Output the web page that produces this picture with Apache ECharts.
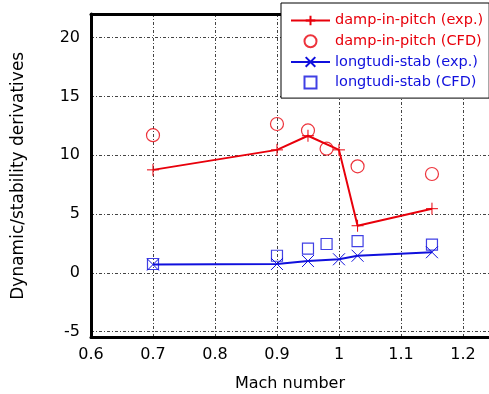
<!DOCTYPE html>
<html>
<head>
<meta charset="utf-8">
<script src="https://cdn.jsdelivr.net/npm/echarts@6/dist/echarts.min.js"></script>
<style>
html, body { margin: 0; padding: 0; background: #fff; }
#chart { width: 489px; height: 394px; }
</style>
</head>
<body>
<div id="chart"></div>
<script>
// Mach numbers
var machExp = [0.7, 0.9, 0.95, 1.0, 1.03, 1.15];
var machCfd = [0.7, 0.9, 0.95, 0.98, 1.03, 1.15];

var dampExp = [8.75, 10.45, 11.65, 10.45, 4.0, 5.45];
var dampCfd = [11.7, 12.65, 12.1, 10.55, 9.05, 8.4];
var stabExp = [0.7, 0.75, 1.0, 1.15, 1.45, 1.75];
var stabCfd = [0.75, 1.45, 2.05, 2.45, 2.7, 2.4];

var RED = '#e8000b';
var BLUE = '#1010dd';
var FONT = 'DejaVu Sans';

function pairs(xs, ys) {
    return xs.map(function (x, i) { return [x, ys[i]]; });
}

var plusPath = 'path://M5,0L5,10M0,5L10,5';
var crossPath = 'path://M0,0L10,10M10,0L0,10';
var squarePath = 'path://M0,0L10,0L10,10L0,10Z';

var chartDom = document.getElementById('chart');
var myChart = echarts.init(chartDom);
var option;

var gridLine = {
    show: true,
    lineStyle: { color: '#444', width: 1, type: [3, 2, 1, 2] }
};

option = {
    animation: false,
    textStyle: { fontFamily: FONT },
    grid: { left: 91, top: 14, right: 0, bottom: 56.5, outerBoundsMode: 'none' },
    legend: {
        orient: 'vertical',
        left: 281,
        top: 3,
        padding: [10, 6, 7, 9],
        itemGap: 4.7,
        itemWidth: 39,
        itemHeight: 12,
        backgroundColor: '#fff',
        borderColor: '#000',
        borderWidth: 1,
        textStyle: { fontSize: 14.5, fontFamily: FONT },
        data: [
            { name: 'damp-in-pitch (exp.)', textStyle: { color: RED } },
            { name: 'damp-in-pitch (CFD)', textStyle: { color: RED } },
            { name: 'longtudi-stab (exp.)', textStyle: { color: BLUE } },
            { name: 'longtudi-stab (CFD)', textStyle: { color: BLUE } }
        ]
    },
    xAxis: [
        {
            type: 'value',
            min: 0.6,
            max: 1.242,
            interval: 0.1,
            name: 'Mach number',
            nameLocation: 'middle',
            nameGap: 38,
            nameTextStyle: { fontSize: 16, color: '#000' },
            axisLine: { show: true, onZero: false, lineStyle: { color: '#000', width: 3 } },
            axisTick: { show: false },
            axisLabel: { fontSize: 16, color: '#000', margin: 9, showMaxLabel: false },
            splitLine: gridLine
        },
        {
            type: 'value',
            position: 'top',
            min: 0.6,
            max: 1.242,
            axisLine: { show: true, onZero: false, lineStyle: { color: '#000', width: 3 } },
            axisTick: { show: false },
            axisLabel: { show: false },
            splitLine: { show: false }
        }
    ],
    yAxis: [
        {
            type: 'value',
            min: -5.5,
            max: 22,
            name: 'Dynamic/stability derivatives',
            nameLocation: 'middle',
            nameGap: 64,
            nameTextStyle: { fontSize: 17, color: '#000' },
            axisLine: { show: true, onZero: false, lineStyle: { color: '#000', width: 3 } },
            axisTick: { show: false },
            axisLabel: { fontSize: 16, color: '#000', margin: 11, showMinLabel: false, showMaxLabel: false },
            splitLine: gridLine
        }
    ],
    series: [
        {
            name: 'damp-in-pitch (exp.)',
            type: 'line',
            data: pairs(machExp, dampExp),
            symbol: plusPath,
            symbolSize: 12,
            lineStyle: { color: RED, width: 2 },
            itemStyle: { color: 'none', borderColor: RED, borderWidth: 1 }
        },
        {
            name: 'damp-in-pitch (CFD)',
            type: 'scatter',
            data: pairs(machCfd, dampCfd),
            symbol: 'circle',
            symbolSize: 13,
            itemStyle: { color: 'none', borderColor: RED, borderWidth: 1.2 }
        },
        {
            name: 'longtudi-stab (exp.)',
            type: 'line',
            data: pairs(machExp, stabExp),
            symbol: crossPath,
            symbolSize: 12,
            lineStyle: { color: BLUE, width: 2 },
            itemStyle: { color: 'none', borderColor: BLUE, borderWidth: 1 }
        },
        {
            name: 'longtudi-stab (CFD)',
            type: 'scatter',
            data: pairs(machCfd, stabCfd),
            symbol: squarePath,
            symbolKeepAspect: true,
            symbolSize: 11,
            itemStyle: { color: 'none', borderColor: BLUE, borderWidth: 1.2 }
        }
    ]
};

option && myChart.setOption(option);
</script>
</body>
</html>
